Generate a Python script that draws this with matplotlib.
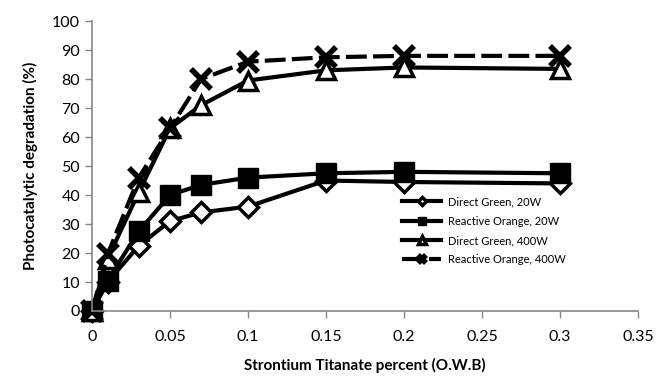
import matplotlib
matplotlib.use("Agg")
from matplotlib import pyplot as plt

plt.rcParams['font.family'] = ['Lato', 'DejaVu Sans']

# Дані: вміст титанату стронцію та ступінь фотокаталітичного розкладання
conc = [0, 0.01, 0.03, 0.05, 0.07, 0.1, 0.15, 0.2, 0.3]
dg_20 = [0, 10, 22.5, 31, 34, 36, 45, 44.5, 44]
ro_20 = [0, 10.5, 27.5, 40, 43.5, 46, 47.5, 48, 47.5]
dg_400 = [0, 18, 41, 63, 71, 79.5, 83, 84, 83.5]
ro_400 = [0, 19.5, 46, 63, 80, 86, 87.5, 88, 88]
names = ['Direct Green, 20W', 'Reactive Orange, 20W', 'Direct Green, 400W', 'Reactive Orange, 400W']

fig = plt.figure(figsize=(6.57, 3.83), dpi=100)
ax = fig.add_axes([0.14, 0.188, 0.831, 0.757])

lw = 3
ax.plot(conc, dg_20, color='black', lw=lw, marker='D', ms=10, mfc='white', mec='black', mew=2.5, label=names[0])
ax.plot(conc, ro_20, color='black', lw=lw, marker='s', ms=14, mfc='black', mec='black', label=names[1])
ax.plot(conc, dg_400, color='black', lw=lw, marker='^', ms=13, mfc='white', mec='black', mew=2.5, label=names[2])
ax.plot(conc, ro_400, color='black', lw=lw, ls=(0, (5, 1.5)), marker='x', ms=14, mew=4, label=names[3])

ax.set_xlim(0, 0.35)
ax.set_ylim(0, 100)
ax.set_xticks([0, 0.05, 0.1, 0.15, 0.2, 0.25, 0.3, 0.35])
ax.set_xticklabels(['0', '0.05', '0.1', '0.15', '0.2', '0.25', '0.3', '0.35'])
ax.set_yticks(range(0, 101, 10))
ax.tick_params(labelsize=11.5, color='#868686', length=5, width=1)
ax.tick_params(axis='x', pad=9)
for s in ['top', 'right']:
    ax.spines[s].set_visible(False)
for s in ['left', 'bottom']:
    ax.spines[s].set_color('#868686')
    ax.spines[s].set_linewidth(1.2)
for ln in ax.lines:
    ln.set_clip_on(False)

ax.set_xlabel('Strontium Titanate percent (O.W.B)', fontsize=11, fontweight='bold', labelpad=10)
ax.set_ylabel('Photocatalytic degradation (%)', fontsize=11, fontweight='bold', labelpad=10)

leg = ax.legend(loc='upper left', bbox_to_anchor=(0.55, 0.43), frameon=False, fontsize=8,
                markerscale=0.45, handlelength=3.5, labelspacing=0.75, handletextpad=0.6)

plt.savefig('out.png', dpi=100)
